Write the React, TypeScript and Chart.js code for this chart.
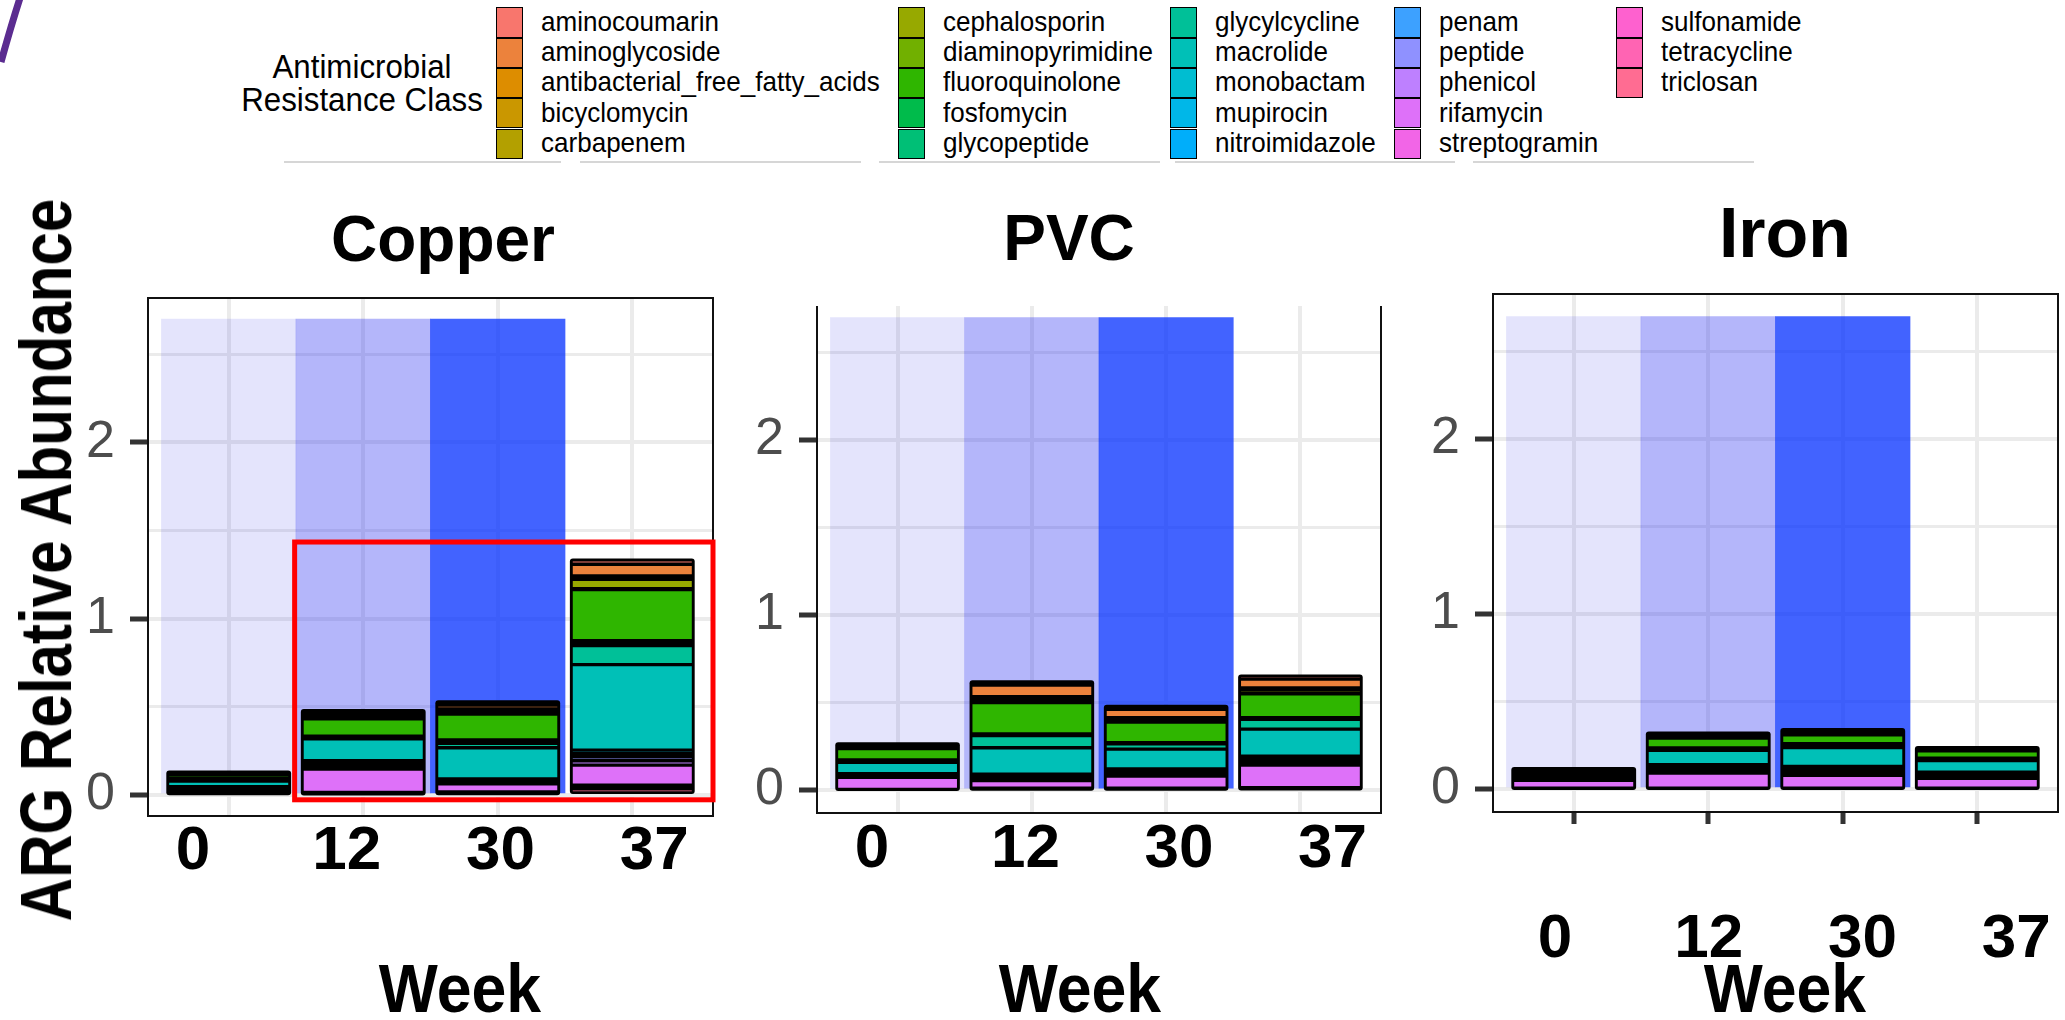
import React, { useEffect, useRef } from "react";
import { Chart, registerables } from "chart.js";

Chart.register(...registerables);

const FONT = "'Liberation Sans', Arial, Helvetica, sans-serif";
Chart.defaults.font.family = FONT;

// ---------------- data ----------------
const classes = [
  "aminocoumarin", "aminoglycoside", "antibacterial_free_fatty_acids", "bicyclomycin", "carbapenem",
  "cephalosporin", "diaminopyrimidine", "fluoroquinolone", "fosfomycin", "glycopeptide",
  "glycylcycline", "macrolide", "monobactam", "mupirocin", "nitroimidazole",
  "penam", "peptide", "phenicol", "rifamycin", "streptogramin",
  "sulfonamide", "tetracycline", "triclosan",
];
const weeks = ["0", "12", "30", "37"];
const yTickValues = [0, 0.5, 1, 1.5, 2, 2.5];
const shadeHeights = [2.7, 2.7, 2.7]; // weeks 0, 12, 30

// relative abundance per class (legend order), one array per material and week
const copper0 = [0.003, 0.004, 0.002, 0.002, 0.002, 0.003, 0.003, 0.022, 0.003, 0.004, 0.005, 0.032, 0.005, 0.004, 0.003, 0.003, 0.006, 0.004, 0.006, 0.004, 0.004, 0.004, 0.004];
const copper12 = [0.008, 0.012, 0.006, 0.004, 0.004, 0.008, 0.006, 0.099, 0.004, 0.004, 0.007, 0.124, 0.006, 0.006, 0.006, 0.006, 0.012, 0.012, 0.133, 0.004, 0.003, 0.003, 0.003];
const copper30 = [0.02, 0.022, 0.005, 0.004, 0.005, 0.008, 0.008, 0.147, 0.009, 0.01, 0.025, 0.177, 0.004, 0.004, 0.003, 0.004, 0.006, 0.006, 0.046, 0.005, 0.004, 0.004, 0.004];
const copper37 = [0.025, 0.066, 0.01, 0.005, 0.005, 0.053, 0.005, 0.29, 0.013, 0.015, 0.108, 0.485, 0.02, 0.008, 0.005, 0.005, 0.022, 0.025, 0.114, 0.01, 0.005, 0.005, 0.035];

const pvc0 = [0.004, 0.006, 0.004, 0.003, 0.003, 0.005, 0.005, 0.065, 0.004, 0.004, 0.005, 0.065, 0.003, 0.003, 0.002, 0.003, 0.005, 0.005, 0.069, 0.001, 0.001, 0.001, 0.001];
const pvc12 = [0.02, 0.067, 0.004, 0.003, 0.003, 0.019, 0.004, 0.179, 0.005, 0.005, 0.069, 0.152, 0.005, 0.005, 0.005, 0.005, 0.008, 0.008, 0.044, 0.003, 0.002, 0.002, 0.003];
const pvc30 = [0.019, 0.048, 0.008, 0.003, 0.003, 0.006, 0.005, 0.118, 0.003, 0.003, 0.03, 0.114, 0.006, 0.006, 0.006, 0.006, 0.008, 0.008, 0.07, 0.003, 0.002, 0.002, 0.003];
const pvc37 = [0.02, 0.05, 0.004, 0.003, 0.003, 0.02, 0.004, 0.137, 0.004, 0.004, 0.057, 0.154, 0.01, 0.004, 0.004, 0.019, 0.008, 0.006, 0.13, 0.003, 0.003, 0.003, 0.004];

const iron0 = [0.002, 0.003, 0.002, 0.002, 0.002, 0.003, 0.003, 0.008, 0.003, 0.003, 0.004, 0.018, 0.003, 0.003, 0.002, 0.002, 0.003, 0.003, 0.045, 0.001, 0.001, 0.001, 0.001];
const iron12 = [0.004, 0.007, 0.004, 0.003, 0.003, 0.005, 0.005, 0.057, 0.004, 0.004, 0.006, 0.082, 0.007, 0.007, 0.007, 0.007, 0.01, 0.01, 0.086, 0.001, 0.001, 0.001, 0.001];
const iron30 = [0.005, 0.007, 0.004, 0.003, 0.003, 0.005, 0.005, 0.051, 0.006, 0.006, 0.009, 0.109, 0.008, 0.007, 0.007, 0.008, 0.01, 0.01, 0.074, 0.001, 0.001, 0.001, 0.001];
const iron37 = [0.003, 0.005, 0.003, 0.002, 0.002, 0.003, 0.003, 0.042, 0.004, 0.004, 0.006, 0.067, 0.005, 0.005, 0.005, 0.005, 0.007, 0.007, 0.057, 0.001, 0.001, 0.001, 0.001];

// highlighted region on the Copper panel (data coordinates)
const highlightBox = { x0: 0.49, x1: 3.6, y0: -0.028, y1: 1.435 };

// ---------------- styles ----------------
function hclHex(h: number, c: number, l: number): string {
  const WY = 100, Wu = 0.1978398, Wv = 0.4683363;
  const hr = (h * Math.PI) / 180;
  const U = c * Math.cos(hr), V = c * Math.sin(hr);
  const Y = WY * (l > 7.999592 ? Math.pow((l + 16) / 116, 3) : l / 903.3);
  const u = U / (13 * l) + Wu, v = V / (13 * l) + Wv;
  const X = (9 * Y * u) / (4 * v);
  const Z = -X / 3 - 5 * Y + (3 * Y) / v;
  const g = (t: number) => (t > 0.00304 ? 1.055 * Math.pow(t, 1 / 2.4) - 0.055 : 12.92 * t);
  const R = g((3.240479 * X - 1.53715 * Y - 0.498535 * Z) / WY);
  const G = g((-0.969256 * X + 1.875992 * Y + 0.041556 * Z) / WY);
  const B = g((0.055648 * X - 0.204043 * Y + 1.057311 * Z) / WY);
  const hx = (x: number) => Math.round(Math.min(1, Math.max(0, x)) * 255).toString(16).padStart(2, "0");
  return "#" + hx(R) + hx(G) + hx(B);
}
const palette = classes.map((_, i) => hclHex(15 + (i * 360) / classes.length, 100, 65));
const shadeColors = ["rgba(30,30,230,0.12)", "rgba(35,40,240,0.34)", "rgba(0,45,255,0.74)"];
const GRID = "#EBEBEB";
const LABEL_FONT = 62;
const LABEL_STEP = 1.143;

type PanelSpec = {
  name: string; values: number[][];
  L: number; R: number; T: number; B: number; ymin: number; ymax: number;
  topBorder: boolean; xTicks: boolean; labelCenterY: number; labelStart: number; highlight: boolean;
  titleX: number; titleBase: number; titleSize: number; weekX: number;
};

const panels: PanelSpec[] = [
  { name: "Copper", values: [copper0, copper12, copper30, copper37], L: 148, R: 713, T: 298, B: 816, ymin: -0.12, ymax: 2.82,
    topBorder: true, xTicks: false, labelCenterY: 852, labelStart: -0.265, highlight: true, titleX: 443, titleBase: 261, titleSize: 64, weekX: 460 },
  { name: "PVC", values: [pvc0, pvc12, pvc30, pvc37], L: 817, R: 1381, T: 306, B: 813, ymin: -0.131, ymax: 2.766,
    topBorder: false, xTicks: false, labelCenterY: 850, labelStart: -0.19, highlight: false, titleX: 1069, titleBase: 260, titleSize: 64, weekX: 1080 },
  { name: "Iron", values: [iron0, iron12, iron30, iron37], L: 1493, R: 2058, T: 294, B: 812, ymin: -0.132, ymax: 2.829,
    topBorder: true, xTicks: true, labelCenterY: 940, labelStart: -0.139, highlight: false, titleX: 1785, titleBase: 257, titleSize: 70, weekX: 1785 },
];

const PAD_TOP = 50, PAD_RIGHT = 20, Y_W = 100;

function PanelChart({ p }: { p: PanelSpec }) {
  const ref = useRef<HTMLCanvasElement>(null);
  const xBoxH = Math.round(p.labelCenterY - LABEL_FONT / 2 - p.B);
  const xlH = LABEL_FONT + 12;
  const w = p.R - p.L + Y_W + PAD_RIGHT;
  const h = PAD_TOP + (p.B - p.T) + xBoxH + xlH;

  useEffect(() => {
    const canvas = ref.current as HTMLCanvasElement;
    const nStack = classes.length;
    const stackedSets = classes
      .map((cls, ci) => ({
        label: cls,
        data: weeks.map((_, wi) => ({ x: wi, y: p.values[wi][ci] })),
        backgroundColor: palette[ci],
        borderColor: "#000000",
        borderWidth: 1.7,
        borderSkipped: false,
        stack: "arg",
        grouped: false,
        barPercentage: 0.91,
        categoryPercentage: 1,
        order: 0,
      }))
      .reverse();
    const shade = {
      label: "shade",
      data: shadeHeights.map((v, i) => ({ x: i, y: v })),
      backgroundColor: shadeColors,
      borderWidth: 0,
      stack: "shade",
      grouped: false,
      barPercentage: 1,
      categoryPercentage: 1,
      order: 1,
    };
    // black outline behind each stacked column (ggplot draws a centred outline round every segment)
    const backingPlugin = {
      id: "backing" + p.name,
      afterDatasetDraw(chart: any, args: any) {
        if (args.index !== nStack) return;
        const ctx = chart.ctx;
        const metas = chart.getSortedVisibleDatasetMetas().filter((m: any) => m.index < nStack);
        ctx.save();
        ctx.fillStyle = "#000000";
        weeks.forEach((_, wi) => {
          let top = Infinity, bottom = -Infinity, x = 0, bw = 0;
          metas.forEach((m: any) => {
            const el = m.data[wi];
            if (!el) return;
            const pr = el.getProps(["x", "y", "base", "width"], true);
            top = Math.min(top, pr.y, pr.base);
            bottom = Math.max(bottom, pr.y, pr.base);
            x = pr.x; bw = pr.width;
          });
          if (!isFinite(top)) return;
          const rx = x - bw / 2 - 1.2, ry = top - 1.2, rw = bw + 2.4, rh = bottom - top + 2.4;
          ctx.beginPath();
          if ((ctx as any).roundRect) (ctx as any).roundRect(rx, ry, rw, rh, 3);
          else ctx.rect(rx, ry, rw, rh);
          ctx.fill();
        });
        ctx.restore();
      },
    };
    const framePlugin = {
      id: "frame" + p.name,
      afterDatasetsDraw(chart: any) {
        const { ctx, chartArea: a } = chart;
        ctx.save();
        ctx.strokeStyle = "#111111";
        ctx.lineWidth = 2;
        ctx.beginPath();
        if (p.topBorder) { ctx.moveTo(a.left - 1, a.top); ctx.lineTo(a.right + 1, a.top); }
        ctx.moveTo(a.right, a.top); ctx.lineTo(a.right, a.bottom);
        ctx.moveTo(a.left - 1, a.bottom); ctx.lineTo(a.right + 1, a.bottom);
        ctx.moveTo(a.left, a.top); ctx.lineTo(a.left, a.bottom);
        ctx.stroke();
        if (p.highlight) {
          const xs = chart.scales.x, ys = chart.scales.y;
          const x0 = xs.getPixelForValue(highlightBox.x0), x1 = xs.getPixelForValue(highlightBox.x1);
          const y0 = ys.getPixelForValue(highlightBox.y1), y1 = ys.getPixelForValue(highlightBox.y0);
          ctx.strokeStyle = "#FF0000";
          ctx.lineWidth = 5;
          ctx.strokeRect(x0, y0, x1 - x0, y1 - y0);
        }
        ctx.restore();
      },
    };
    const chart = new Chart(canvas, {
      type: "bar",
      data: { datasets: [...stackedSets, shade] as any },
      options: {
        responsive: false,
        animation: false,
        events: [],
        layout: { padding: { top: PAD_TOP, right: PAD_RIGHT, left: 0, bottom: 0 } },
        plugins: { legend: { display: false }, tooltip: { enabled: false }, title: { display: false } },
        scales: {
          x: {
            type: "linear", position: "bottom", weight: 0, min: -0.6, max: 3.6, offset: false,
            afterBuildTicks: (s: any) => { s.ticks = weeks.map((_, i) => ({ value: i })); },
            ticks: { display: false },
            grid: { offset: false, color: GRID, lineWidth: 4, drawTicks: p.xTicks, tickLength: 12, tickWidth: 5, tickColor: "#333333" },
            border: { display: false },
            afterFit: (s: any) => { s.height = xBoxH; },
          },
          xl: {
            type: "linear", position: "bottom", weight: 1, min: -0.6, max: 3.6, offset: false,
            afterBuildTicks: (s: any) => { s.ticks = weeks.map((_, i) => ({ value: p.labelStart + i * LABEL_STEP })); },
            ticks: {
              callback: (_v: any, i: number) => weeks[i],
              font: { size: LABEL_FONT, weight: "bold", family: FONT, lineHeight: 1 },
              color: "#000000", padding: 0, autoSkip: false, maxRotation: 0, minRotation: 0,
            },
            grid: { display: false, drawTicks: false, offset: false },
            border: { display: false },
            afterFit: (s: any) => { s.height = xlH; },
          },
          y: {
            type: "linear", position: "left", min: p.ymin, max: p.ymax, stacked: true,
            afterBuildTicks: (s: any) => { s.ticks = yTickValues.map((v) => ({ value: v })); },
            ticks: {
              callback: (v: any) => (Number.isInteger(v) ? String(v) : ""),
              font: { size: 52, family: FONT }, color: "#4D4D4D", padding: 15, autoSkip: false,
            },
            grid: {
              color: GRID,
              lineWidth: (c: any) => (c.tick && Number.isInteger(c.tick.value) ? 4 : 3),
              tickLength: 18, tickWidth: 5,
              tickColor: (c: any) => (c.tick && Number.isInteger(c.tick.value) ? "#333333" : "rgba(0,0,0,0)"),
            },
            border: { display: false },
            afterFit: (s: any) => { s.width = Y_W; },
          },
        },
      } as any,
      plugins: [backingPlugin as any, framePlugin as any],
    });
    return () => chart.destroy();
  }, []);

  return (
    <canvas
      ref={ref}
      width={w}
      height={h}
      style={{ position: "absolute", left: p.L - Y_W, top: p.T - PAD_TOP, width: w, height: h }}
    />
  );
}

function Txt(props: { x: number; base: number; size: number; bold?: boolean; sx?: number; align?: "left" | "center"; children: any; color?: string }) {
  const { x, base, size, bold, sx = 1, align = "center", children, color = "#000" } = props;
  const top = base - 0.8465 * size;
  return (
    <div
      style={{
        position: "absolute", left: x, top, fontSize: size, lineHeight: `${size}px`, fontWeight: bold ? 700 : 400,
        whiteSpace: "nowrap", color,
        transform: align === "center" ? `translateX(-50%) scaleX(${sx})` : `scaleX(${sx})`,
        transformOrigin: align === "center" ? "center center" : "left center",
      }}
    >
      {children}
    </div>
  );
}

const legendKeyX = [496, 898, 1170, 1394, 1616];
const LEG_TOP = 7.3, LEG_PITCH = 30.3;
const legendRules = [[284, 561], [580, 861], [879, 1160], [1175, 1455], [1473, 1754]];

function Legend() {
  return (
    <>
      <Txt x={362} base={78} size={34} sx={0.92}>Antimicrobial</Txt>
      <Txt x={362} base={111} size={34} sx={0.92}>Resistance Class</Txt>
      {classes.map((cls, i) => {
        const col = Math.floor(i / 5), row = i % 5;
        const kx = legendKeyX[col];
        const ky = LEG_TOP + row * LEG_PITCH;
        return (
          <React.Fragment key={cls}>
            <div style={{ position: "absolute", left: kx, top: ky, width: 27, height: LEG_PITCH, background: palette[i], border: "1.5px solid #000", boxSizing: "border-box" }} />
            <Txt x={kx + 45} base={ky + LEG_PITCH / 2 + 9} size={28} sx={0.93} align="left">{cls}</Txt>
          </React.Fragment>
        );
      })}
      {legendRules.map(([a, b], i) => (
        <div key={i} style={{ position: "absolute", left: a, top: 161, width: b - a, height: 2, background: "#D6D6D6" }} />
      ))}
    </>
  );
}

export default function App() {
  return (
    <div style={{ position: "absolute", left: 0, top: 0, width: 2065, height: 1020, background: "#ffffff", overflow: "hidden", fontFamily: FONT, color: "#000" }}>
      <svg width={30} height={70} style={{ position: "absolute", left: 0, top: 0 }}>
        <path d="M20,-2 Q11,26 1,62" stroke="#5B2C90" strokeWidth={7} fill="none" />
      </svg>
      <Legend />
      {panels.map((p) => (
        <PanelChart key={p.name} p={p} />
      ))}
      {panels.map((p) => (
        <React.Fragment key={"t" + p.name}>
          <Txt x={p.titleX} base={p.titleBase} size={p.titleSize} bold>{p.name}</Txt>
          <Txt x={p.weekX} base={1012} size={68} bold sx={0.92}>Week</Txt>
        </React.Fragment>
      ))}
      <div
        style={{
          position: "absolute", left: 46, top: 560, fontSize: 72, lineHeight: "72px", fontWeight: 700, whiteSpace: "nowrap",
          transform: "translate(-50%, -50%) rotate(-90deg) scaleX(0.835)",
        }}
      >
        ARG Relative Abundance
      </div>
    </div>
  );
}
